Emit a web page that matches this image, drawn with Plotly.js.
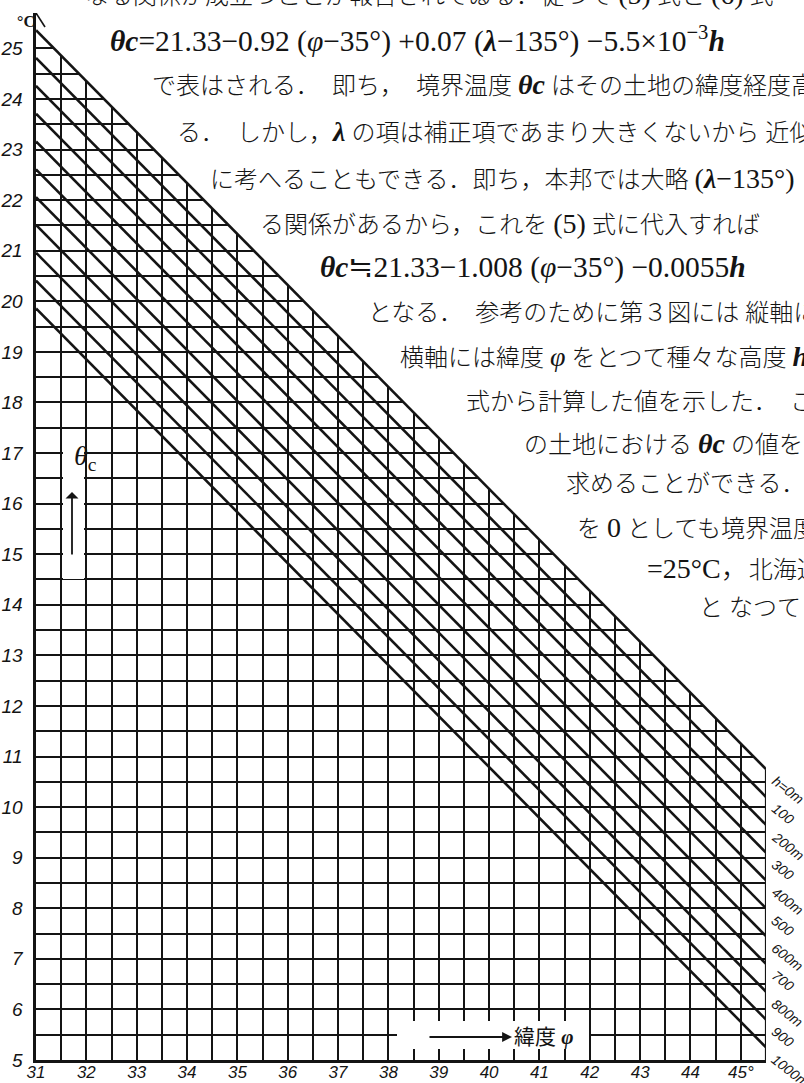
<!DOCTYPE html>
<html>
<head>
<meta charset="utf-8">
<script src="https://cdn.plot.ly/plotly-3.0.1.min.js"></script>
<style>
  html, body { margin: 0; padding: 0; background: #fff; overflow: hidden; }
  #chart { width: 804px; height: 1083px; }
</style>
</head>
<body>
<div id="chart"></div>
<script>
/* ─── 第3図: 境界温度 θc と 緯度 φ・高度 h ─── */

// axis ticks
const latTicks = [31, 32, 33, 34, 35, 36, 37, 38, 39, 40, 41, 42, 43, 44, 45];
const latTickText = ['31', '32', '33', '34', '35', '36', '37', '38', '39', '40', '41', '42', '43', '44', '45°'];
const tempTicks = [5, 6, 7, 8, 9, 10, 11, 12, 13, 14, 15, 16, 17, 18, 19, 20, 21, 22, 23, 24, 25];
const latRange = [31, 45.5];
const tempRange = [5, 25.7];

// one line per height, read at the left (31°) and right (45.5°) edge
const heights = [0, 100, 200, 300, 400, 500, 600, 700, 800, 900, 1000];
const heightLabels = ['h=0m', '100', '200m', '300', '400m', '500', '600m', '700', '800m', '900', '1000m'];
const thetaAtLeft = [25.36, 24.81, 24.26, 23.71, 23.16, 22.61, 22.06, 21.51, 20.96, 20.41, 19.86];
const thetaAtRight = [10.75, 10.20, 9.65, 9.10, 8.55, 8.00, 7.45, 6.90, 6.35, 5.80, 5.25];

// page text around the figure
const L = s => '<span style="font-size:28px">' + s + '</span>';
const F = s => '<span style="font-size:29.5px">' + s + '</span>';
const bodyLines = [
    'なる関係が成立つことが報告されてゐる．従つて ' + L('(5)') + ' 式と ' + L('(6)') + ' 式',
    F('<b><i>θc</i></b>=21.33−0.92 (<i>φ</i>−35°) +0.07 (<b><i>λ</i></b>−135°) −5.5×10<sup>−3</sup><b><i>h</i></b>'),
    'で表はされる．  即ち，  境界温度 ' + L('<b><i>θc</i></b>') + ' はその土地の緯度経度高',
    'る．　しかし，' + L('<b><i>λ</i></b>') + ' の項は補正項であまり大きくないから 近似',
    'に考へることもできる．即ち，本邦では大略 ' + L('(<b><i>λ</i></b>−135°)'),
    'る関係があるから，これを ' + L('(5)') + ' 式に代入すれば',
    F('<b><i>θc</i></b>≒21.33−1.008 (<i>φ</i>−35°) −0.0055<b><i>h</i></b>'),
    'となる．  参考のために第３図には 縦軸に',
    '横軸には緯度 ' + L('<i>φ</i>') + ' をとつて種々な高度 ' + L('<b><i>h</i></b>'),
    '式から計算した値を示した．  こ',
    'の土地における ' + L('<b><i>θc</i></b>') + ' の値を',
    '求めることができる．',
    'を ' + L('0') + ' としても境界温度',
    L('=25°C，') + '北海道',
    'と なつて',
];
// left edge / middle of each text line, in pixels
const bodyX = [83, 108, 150, 175, 208, 258, 318, 366, 398, 464, 522, 564, 575, 645, 697];
const bodyY = [-6, 40, 85, 132, 178, 223, 268, 313, 357, 402, 443, 484, 527, 568, 608];

const W = 804, H = 1083;
const M = { l: 36, r: 38, t: 13, b: 23 };
const pxX = px => (px - M.l) / (W - M.l - M.r);          // pixel → paper x
const pxY = py => (H - M.b - py) / (H - M.t - M.b);      // pixel → paper y
const pxToLat = px => latRange[0] + pxX(px) * (latRange[1] - latRange[0]);
const pxToTemp = py => tempRange[0] + pxY(py) * (tempRange[1] - tempRange[0]);

const INK = '#141414';
const SERIF = "'Liberation Serif', 'Noto Sans CJK JP', serif";
const HAND = "'Liberation Sans Narrow', 'Liberation Sans', sans-serif";

// blank the area above the h=0 line (text lives there)
const mask = {
    x: [latRange[0], latRange[1], latRange[1], latRange[0]],
    y: [thetaAtLeft[0], thetaAtRight[0], tempRange[1], tempRange[1]],
    type: 'scatter', mode: 'lines', fill: 'toself',
    fillcolor: '#ffffff', line: { width: 0, color: '#ffffff' },
    hoverinfo: 'skip',
};

const heightLines = heights.map((h, i) => ({
    x: [latRange[0], latRange[1]],
    y: [thetaAtLeft[i], thetaAtRight[i]],
    type: 'scatter', mode: 'lines',
    line: { color: INK, width: 2.6 },
    name: heightLabels[i],
}));

const rightEdge = {
    x: [latRange[1], latRange[1]],
    y: [tempRange[0], thetaAtRight[0]],
    type: 'scatter', mode: 'lines',
    line: { color: INK, width: 2.2 },
};

const annotations = [];

bodyLines.forEach((t, i) => {
    annotations.push({
        x: pxX(bodyX[i]), y: pxY(bodyY[i]), xref: 'paper', yref: 'paper',
        xanchor: 'left', yanchor: 'middle', showarrow: false,
        text: t, font: { family: SERIF, size: 24, color: INK, weight: 300 },
    });
});

heightLabels.forEach((t, i) => {
    annotations.push({
        x: latRange[1], y: thetaAtRight[i], xref: 'x', yref: 'y',
        xanchor: 'left', yanchor: 'top', xshift: 0, yshift: -1,
        textangle: 38, showarrow: false,
        text: t, font: { family: HAND, size: 14, color: INK, style: 'italic' },
    });
});

// ℃ at the top of the vertical axis
annotations.push({
    x: pxX(15), y: pxY(11), xref: 'paper', yref: 'paper', showarrow: false,
    text: '<b>°C</b>', font: { family: SERIF, size: 16, color: INK },
});

// θc label with its arrow
annotations.push({
    x: pxX(72), y: pxY(458), xref: 'paper', yref: 'paper', showarrow: false,
    text: '<i>θ</i><sub>c</sub>', font: { family: SERIF, size: 28, color: INK },
});
annotations.push({
    x: pxToLat(72), y: pxToTemp(492), ax: pxToLat(72), ay: pxToTemp(556),
    xref: 'x', yref: 'y', axref: 'x', ayref: 'y', text: '',
    showarrow: true, arrowhead: 1, arrowsize: 1.2, arrowwidth: 1.8, arrowcolor: INK,
});

// → 緯度 φ
annotations.push({
    x: pxToLat(512), y: pxToTemp(1037), ax: pxToLat(428), ay: pxToTemp(1037),
    xref: 'x', yref: 'y', axref: 'x', ayref: 'y', text: '',
    showarrow: true, arrowhead: 2, arrowsize: 1.1, arrowwidth: 1.8, arrowcolor: INK,
});
annotations.push({
    x: pxX(512), y: pxY(1037), xref: 'paper', yref: 'paper',
    xanchor: 'left', yanchor: 'middle', showarrow: false,
    text: '緯度 <b><i>φ</i></b>', font: { family: SERIF, size: 21, color: INK },
});

const shapes = [
    // gaps in the grid behind the two axis labels
    { type: 'rect', xref: 'x', yref: 'y', layer: 'above',
      x0: pxToLat(63), x1: pxToLat(84), y0: pxToTemp(579), y1: pxToTemp(429),
      fillcolor: '#ffffff', line: { width: 0 } },
    { type: 'rect', xref: 'x', yref: 'y', layer: 'above',
      x0: pxToLat(397), x1: pxToLat(589), y0: pxToTemp(1049), y1: pxToTemp(1021),
      fillcolor: '#ffffff', line: { width: 0 } },
    // half arrow head on the vertical axis
    { type: 'line', xref: 'x', yref: 'y', layer: 'above',
      x0: latRange[0], y0: tempRange[1], x1: pxToLat(45), y1: pxToTemp(27),
      line: { color: INK, width: 1.6 } },
];

const gridStyle = { showgrid: true, gridcolor: INK, gridwidth: 2 };

const layout = {
    width: W, height: H,
    margin: { l: M.l, r: M.r, t: M.t, b: M.b, pad: 0 },
    paper_bgcolor: '#ffffff', plot_bgcolor: '#ffffff',
    showlegend: false,
    xaxis: {
        range: latRange, tickmode: 'array', tickvals: latTicks, ticktext: latTickText,
        ticks: '', showline: true, linecolor: INK, linewidth: 2.6, zeroline: false,
        ...gridStyle, minor: { dtick: 0.5, ...gridStyle },
        ticklabelstandoff: -5,
        tickfont: { family: HAND, size: 17, color: INK, style: 'italic' },
    },
    yaxis: {
        range: tempRange, tickmode: 'array', tickvals: tempTicks,
        ticks: '', showline: true, linecolor: INK, linewidth: 2.6, zeroline: false,
        ...gridStyle, minor: { dtick: 0.5, ...gridStyle },
        ticklabelstandoff: 7,
        tickfont: { family: HAND, size: 19, color: INK, style: 'italic' },
    },
    annotations: annotations,
    shapes: shapes,
};

Plotly.newPlot('chart', [mask, ...heightLines, rightEdge], layout, { staticPlot: true, displayModeBar: false });
</script>
</body>
</html>
